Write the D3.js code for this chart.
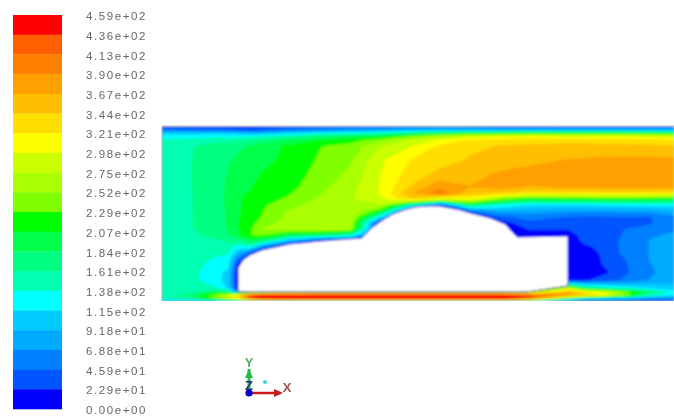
<!DOCTYPE html>
<html><head><meta charset="utf-8">
<script src="https://cdnjs.cloudflare.com/ajax/libs/d3/7.8.5/d3.min.js"></script>
<style>html,body{margin:0;padding:0;background:#fff}svg{display:block}</style>
</head><body><svg id="c" width="674" height="417"></svg>
<script>
const legendLabels=["4.59e+02","4.36e+02","4.13e+02","3.90e+02","3.67e+02","3.44e+02","3.21e+02","2.98e+02","2.75e+02","2.52e+02","2.29e+02","2.07e+02","1.84e+02","1.61e+02","1.38e+02","1.15e+02","9.18e+01","6.88e+01","4.59e+01","2.29e+01","0.00e+00"];
const bandColors=["#ff0000","#ff5f00","#ff8000","#ff9f00","#ffbf00","#ffdf00","#ffff00","#ccff00","#aaff00","#80ff00","#00ff00","#00ff48","#00ff80","#00ffb0","#00ffff","#00ccff","#00aaff","#0080ff","#0055ff","#0000ff"];
const levels=[0,23,46,69,92,115,138,161,184,207,229,252,275,298,321,344,367,390,413,436];
const stationsX=[0,28,53,66,76,88,100,128,158,188,218,248,278,308,338,368,406,423,443,463,488,512];
const stationsY=[1,4,7,10,14,20,34,49,61,67,73,79,85,91,97,103,109,115,121,127,133,139,146,154,162,166,169,171,173,175];
const col00=[10,60,100,125,140,150,155,155,155,155,155,155,155,155,155,155,155,155,155,155,152,150,150,150,150,150,150,150,140,60];
const col01=[10,50,95,125,145,158,160,160,160,160,160,160,160,160,160,160,158,156,155,154,152,150,148,145,150,155,170,175,150,60];
const col02=[10,50,100,130,150,172,175,175,172,170,170,170,170,168,168,166,165,155,150,145,135,128,122,125,140,190,235,250,215,70];
const col03=[10,45,95,130,152,176,182,185,188,190,190,190,188,188,188,186,180,165,150,140,130,122,110,105,110,170,270,300,260,75];
const col04=[10,40,90,130,155,180,188,195,200,205,205,205,205,205,205,205,200,165,125,90,50,15,5,5,5,60,320,340,290,80];
const col05=[10,35,85,130,160,185,195,200,205,208,210,212,214,218,220,225,228,190,130,40,5,5,5,5,5,100,420,440,370,90];
const col06=[15,40,90,135,170,195,200,209,214,218,222,225,228,230,240,254,235,170,60,5,5,5,5,5,5,150,435,470,420,100];
const col07=[20,55,105,150,190,212,214,218,222,228,232,245,255,260,264,262,190,80,5,5,5,5,5,5,5,220,435,472,430,110];
const col08=[25,65,120,170,205,228,232,238,245,250,255,262,266,270,272,268,180,10,5,5,5,5,5,5,5,250,435,472,430,120];
const col09=[30,75,130,185,220,236,248,258,266,270,272,273,274,274,274,260,150,5,5,5,5,5,5,5,5,250,435,472,430,120];
const col10=[35,80,140,200,240,272,293,297,299,299,290,270,215,120,10,5,5,5,5,5,5,5,5,5,5,250,435,472,430,120];
const col11=[40,90,160,230,275,295,321,332,345,362,340,150,5,5,5,5,5,5,5,5,5,5,5,5,5,250,435,472,430,120];
const col12=[40,95,180,260,300,325,335,352,385,405,300,30,5,5,5,5,5,5,5,5,5,5,5,5,5,250,435,472,430,120];
const col13=[35,95,190,280,325,340,346,358,368,350,310,180,50,5,5,5,5,5,5,5,5,5,5,5,5,250,435,472,430,120];
const col14=[30,90,200,290,330,345,352,372,375,345,240,135,85,40,10,5,5,5,5,5,5,5,5,5,5,250,435,472,430,120];
const col15=[30,90,210,295,335,348,360,378,365,325,205,115,80,55,40,25,10,5,5,5,5,5,5,5,5,250,410,440,370,110];
const col16=[25,90,205,290,335,350,368,382,370,330,210,115,75,45,35,25,10,5,5,5,5,5,5,5,280,360,380,300,150,40];
const col17=[25,90,205,290,335,350,370,382,370,330,210,115,72,44,38,36,34,30,18,8,5,5,5,20,170,320,345,240,80,25];
const col18=[25,90,205,290,330,350,372,385,375,330,215,118,72,44,38,38,36,34,32,30,28,26,18,35,150,290,310,200,65,25];
const col19=[25,90,205,290,330,350,372,385,375,330,215,120,75,46,44,46,48,52,52,52,46,43,42,50,130,240,250,160,60,25];
const col20=[25,90,200,285,328,348,372,385,375,328,210,122,78,45,44,52,66,70,70,70,70,68,66,70,115,175,150,100,50,25];
const col21=[25,90,190,280,325,345,372,385,375,325,205,120,88,62,62,66,72,76,80,82,82,80,78,85,100,125,115,85,50,25];
const columns=[col00,col01,col02,col03,col04,col05,col06,col07,col08,col09,col10,col11,col12,col13,col14,col15,col16,col17,col18,col19,col20,col21];
const carX=[76,76,81,88,100,128,158,200,211,221,231,242,253,266,277,288,298,308,328,343,355,406,406,365];
const carY=[166,142,134,129,124,118,115,112,101,94,88,84,81,80,80,82,84,87,92,98,111,110,160,166];

const svg=d3.select("#c");
const defs=svg.append("defs");
defs.append("filter").attr("id","blurField").attr("x","-5%").attr("y","-5%").attr("width","110%").attr("height","110%")
  .append("feGaussianBlur").attr("stdDeviation",0.8);
defs.append("filter").attr("id","blurText").attr("x","-10%").attr("y","-10%").attr("width","120%").attr("height","120%")
  .append("feGaussianBlur").attr("stdDeviation",0.55);
defs.append("clipPath").attr("id","dom").append("rect").attr("x",162).attr("y",126).attr("width",512).attr("height",175);

// legend
const legendY=d3.scaleBand().domain(d3.range(bandColors.length)).range([15,409]);
const legend=svg.append("g").attr("filter","url(#blurText)");
legend.selectAll("rect").data(bandColors).join("rect")
  .attr("x",13).attr("width",49).attr("y",(d,i)=>legendY(i)).attr("height",legendY.bandwidth()+0.3).attr("fill",d=>d);
const labelY=d3.scalePoint().domain(legendLabels).range([16,410]);
const ax=svg.append("g").attr("transform","translate(86,0)").attr("filter","url(#blurText)")
  .call(d3.axisRight(labelY).tickSize(0).tickPadding(0));
ax.select(".domain").remove();
ax.selectAll("text").attr("font-family","Liberation Sans").attr("font-size",11.5).attr("letter-spacing",1.6).attr("fill","#666");

// field
const xPos=d3.scaleLinear().domain([0,512]).range([162,674]);
const yPos=d3.scaleLinear().domain([0,175]).range([126,301]);
const n=stationsX.length,m=stationsY.length;
const gridX=d3.scaleLinear().domain(stationsX.map((d,i)=>i+0.5)).range(stationsX).clamp(true);
const gridY=d3.scaleLinear().domain(stationsY.map((d,i)=>i+0.5)).range(stationsY).clamp(true);
const flat=[];
for(let j=0;j<m;j++)for(let i=0;i<n;i++)flat.push(columns[i][j]);
const contours=d3.contours().size([n,m]).thresholds(levels)(flat);
const tf=d3.geoTransform({point(x,y){this.stream.point(xPos(gridX(x)),yPos(gridY(y)));}});
const path=d3.geoPath(tf);
const color=d3.scaleOrdinal().domain(levels).range(bandColors.slice().reverse());
const clip=svg.append("g").attr("clip-path","url(#dom)");
const field=clip.append("g").attr("filter","url(#blurField)");
field.selectAll("path").data(contours).join("path").attr("d",path)
  .attr("fill",d=>color(d.value)).attr("stroke",d=>color(d.value)).attr("stroke-width",0.3);
const car=d3.line().x((d,i)=>xPos(carX[i])).y((d,i)=>yPos(carY[i])).curve(d3.curveLinearClosed);
field.append("path").attr("d",car(carX)).attr("fill","#fff").attr("stroke","#0000c8").attr("stroke-width",0.9);
const last=carX.length-1;
const floorLine=d3.line().x(d=>xPos(d[0])).y(d=>yPos(d[1]));
field.append("path").attr("d",floorLine([[carX[last-1],carY[last-1]],[carX[last],carY[last]],[carX[0],carY[0]]])).attr("fill","none").attr("stroke","#6f9a30").attr("stroke-width",1);
svg.append("path").attr("d","M162,301V126H674").attr("fill","none").attr("stroke","#9a9a9a").attr("stroke-width",1).attr("opacity",0.7).attr("filter","url(#blurText)");

// triad
const triad=svg.append("g").attr("filter","url(#blurText)");
const seg=(x1,y1,x2,y2,c,w)=>triad.append("line").attr("x1",x1).attr("y1",y1).attr("x2",x2).attr("y2",y2).attr("stroke",c).attr("stroke-width",w);
seg(249,392,249,369,"#20c040",3);
seg(249,393,280,393,"#d01818",2.5);
triad.append("path").attr("d","M245,378L249,369L253,378Z").attr("fill","#20c040");
triad.append("path").attr("d","M274,389L283,393L274,397Z").attr("fill","#c02020");
triad.append("circle").attr("cx",249).attr("cy",393).attr("r",3.6).attr("fill","#0000d0");
triad.append("circle").attr("cx",265).attr("cy",382).attr("r",2).attr("fill","#30d8d8");
const tl=(t,x,y,c)=>triad.append("text").text(t).attr("x",x).attr("y",y).attr("text-anchor","middle").attr("font-family","Liberation Sans").attr("font-weight","bold").attr("font-size",13).attr("fill",c);
tl("Y",249,367,"#50b060");tl("Z",249,390,"#203080");tl("X",287,392,"#a05050");
</script></body></html>
